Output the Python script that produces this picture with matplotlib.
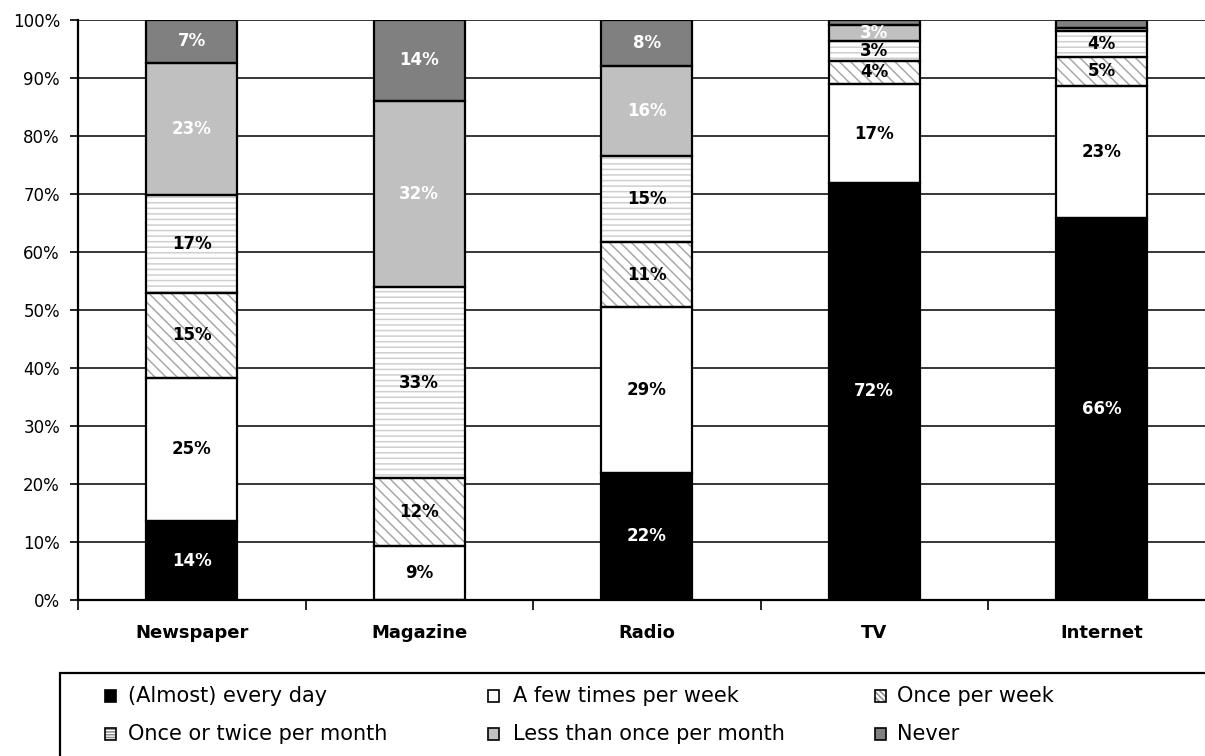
import matplotlib
matplotlib.use("Agg")
import matplotlib.pyplot as plt
from matplotlib.patches import Rectangle
import numpy as np

# Media use frequency, share of respondents (%)
categories = ["Newspaper", "Magazine", "Radio", "TV", "Internet"]
series_names = [
    "(Almost) every day",
    "A few times per week",
    "Once per week",
    "Once or twice per month",
    "Less than once per month",
    "Never",
]
every_day = [13.6, 0.0, 21.9, 71.9, 65.9]
few_per_week = [24.7, 9.3, 28.6, 17.0, 22.7]
once_per_week = [14.7, 11.7, 11.2, 4.1, 5.1]
once_twice_month = [16.9, 33.0, 14.8, 3.3, 4.4]
less_than_month = [22.7, 32.1, 15.6, 2.8, 0.5]
never = [7.4, 13.9, 7.9, 0.9, 1.4]
y_ticks = [0, 10, 20, 30, 40, 50, 60, 70, 80, 90, 100]

series_values = [every_day, few_per_week, once_per_week,
                 once_twice_month, less_than_month, never]

# fill, hatch, hatch colour, label colour
styles = [
    ("#000000", None, "#000000", "white"),
    ("#ffffff", None, "#ffffff", "black"),
    ("#ffffff", "\\\\\\", "#a8a8a8", "black"),
    ("#ffffff", "---", "#cfcfcf", "black"),
    ("#c0c0c0", None, "#c0c0c0", "white"),
    ("#808080", None, "#808080", "white"),
]
# denser hatching for the small legend keys
legend_hatch = [None, None, "\\\\\\\\\\\\", "------", None, None]

plt.rcParams["font.family"] = ["DejaVu Sans"]
plt.rcParams["hatch.linewidth"] = 1.1

W, H = 1205, 756
fig = plt.figure(figsize=(W / 100, H / 100), dpi=100)

ax_left, ax_right, ax_top, ax_bottom = 78, 78 + 5 * 227.5, 20, 600
ax = fig.add_axes([ax_left / W, (H - ax_bottom) / H,
                   (ax_right - ax_left) / W, (ax_bottom - ax_top) / H])

x = np.arange(len(categories))
bar_w = 0.4
bottom = np.zeros(len(categories))
for vals, (fc, hatch, hc, tc) in zip(series_values, styles):
    vals = np.array(vals)
    # hatched fill
    ax.bar(x, vals, bar_w, bottom=bottom, color=fc, edgecolor=hc,
           hatch=hatch, linewidth=0, zorder=2)
    # black outline
    cont = ax.bar(x, vals, bar_w, bottom=bottom, fill=False,
                  edgecolor="black", linewidth=1.6, zorder=3)
    labels = [f"{v:.0f}%" if v >= 2 else "" for v in vals]
    ax.bar_label(cont, labels=labels, label_type="center", color=tc,
                 fontsize=12, fontweight="bold", zorder=4)
    bottom += vals

ax.set_xlim(-0.5, 4.5)
ax.set_ylim(0, 100)

# y axis
ax.set_yticks(y_ticks)
ax.set_yticklabels([f"{t}%" for t in y_ticks])
ax.tick_params(axis="y", direction="out", length=6, width=1.2,
               labelsize=12, pad=7, colors="black")
ax.yaxis.grid(True, color="black", linewidth=1.1)
ax.set_axisbelow(True)

# x axis: ticks between categories, labels at centers
ax.set_xticks([-0.5, 0.5, 1.5, 2.5, 3.5])
ax.set_xticklabels([])
ax.tick_params(axis="x", which="major", direction="out", length=7, width=1.2)
ax.set_xticks(x, minor=True)
ax.set_xticklabels(categories, minor=True, fontsize=13, fontweight="bold")
ax.tick_params(axis="x", which="minor", length=0, pad=17)

for side in ("top", "right"):
    ax.spines[side].set_visible(False)
for side in ("left", "bottom"):
    ax.spines[side].set_linewidth(1.6)
    ax.spines[side].set_color("black")


def fx(px):
    return px / W


def fy(py):
    return (H - py) / H


# legend box (runs past the figure edge)
fig.patches.append(Rectangle((fx(60), fy(800)), fx(1300) - fx(60),
                             fy(673) - fy(800), transform=fig.transFigure,
                             facecolor="none", edgecolor="black",
                             linewidth=1.6, zorder=5))

col_marker_x = [105, 488, 875]
col_text_x = [128, 513, 897]
row_y = [696, 734]
mw, mh = 11, 12
for i, (name, (fc, hatch, hc, tc)) in enumerate(zip(series_names, styles)):
    r, c = divmod(i, 3)
    mx, my = col_marker_x[c], row_y[r]
    rect_xy = (fx(mx), fy(my + mh / 2))
    rw, rh = fx(mw), fy(my - mh / 2) - fy(my + mh / 2)
    key_hc = "#8a8a8a" if legend_hatch[i] else hc
    fig.patches.append(Rectangle(rect_xy, rw, rh, transform=fig.transFigure,
                                 facecolor=fc, edgecolor=key_hc,
                                 hatch=legend_hatch[i], linewidth=0,
                                 zorder=6))
    fig.patches.append(Rectangle(rect_xy, rw, rh, transform=fig.transFigure,
                                 facecolor="none", edgecolor="black",
                                 linewidth=1.2, zorder=7))
    fig.text(fx(col_text_x[c]), fy(my), name, fontsize=15,
             va="center", ha="left", color="black")

fig.savefig("out.png", dpi=100)
